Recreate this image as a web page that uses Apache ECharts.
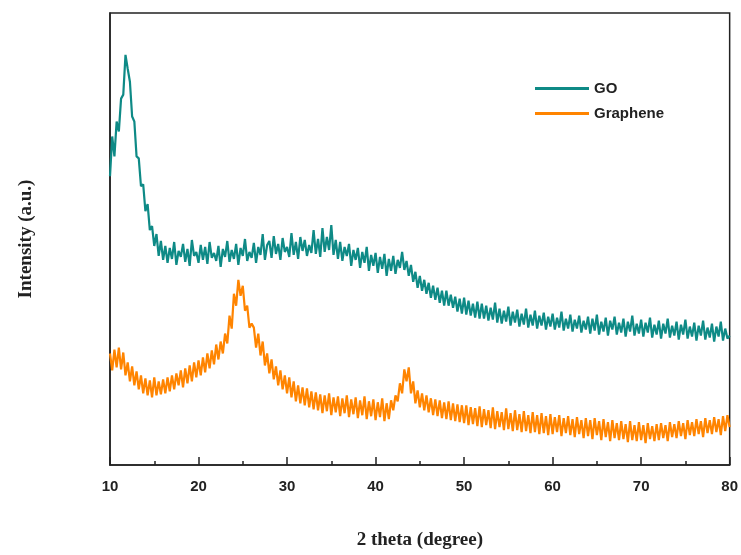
<!DOCTYPE html>
<html><head><meta charset="utf-8">
<script src="https://cdn.jsdelivr.net/npm/echarts@6/dist/echarts.min.js"></script>
<style>html,body{margin:0;padding:0;background:#fff}#c{width:741px;height:555px}</style>
</head><body><div id="c"></div>
<script>
// 2-theta sampling grid: 10..80 deg, 0.25 deg steps
const thetaStart = 10, thetaStep = 0.25;
const seriesNames = ['GO', 'Graphene'];
const xTicks = [10, 20, 30, 40, 50, 60, 70, 80];

const goValues = [
290,330,310,345,335,368,372,412,398,
385,350,345,310,308,280,282,255,262,236,240,220,232,210,225,206,
220,203,218,207,224,201,215,209,222,204,217,200,226,210,214,203,221,206,219,202,224,208,213,205,220,199,217,209,225,204,216,207,222,201,218,210,227,205,214,208,223,203,219,211,232,206,221,
225,208,230,212,222,206,228,214,
219,209,233,211,224,207,229,215,
226,210,221,213,236,212,227,209,
238,214,229,216,241,211,226,207,
224,205,219,210,222,200,216,206,
218,198,214,203,219,195,211,200,
213,193,209,197,212,190,207,195,
210,192,206,198,
214,196,205,190,
201,184,194,178,190,175,186,172,
183,168,180,166,178,163,175,160,
175,160,171,158,169,154,167,152,
168,151,165,150,162,148,164,147,
162,147,160,145,158,146,163,143,
157,142,155,144,159,140,154,143,
156,139,152,141,157,138,151,140,
155,137,150,140,153,136,149,139,
152,136,148,138,154,135,147,137,
151,134,146,137,150,133,145,136,
149,132,147,135,151,131,144,134,
148,130,145,136,149,131,143,133,
147,129,144,134,150,130,142,132,
146,129,143,133,148,128,141,131,
145,127,142,132,147,128,140,130,
144,126,141,131,146,127,139,129,
143,125,140,130,145,126,138,128,
142,124,139,129,144,125,137,127,
130
];

const grapheneValues = [
112,95,116,98,118,96,113,90,103,
84,99,80,94,76,90,72,87,70,85,68,88,70,84,71,86,
72,88,74,90,76,92,80,95,78,97,82,100,84,103,88,105,90,108,93,112,97,115,101,121,106,124,112,
132,122,150,137,172,160,186,170,180,155,160,138,142,
138,118,132,110,124,100,112,92,106,86,99,80,95,76,90,
72,88,68,84,64,80,62,78,
60,77,58,74,56,73,55,71,
52,70,54,72,50,68,53,69,
49,67,52,70,48,66,51,68,
47,65,50,69,46,64,49,66,
45,63,48,67,44,62,46,65,
55,70,64,82,72,96,84,98,72,84,62,75,
58,72,55,70,53,67,50,66,
49,65,47,63,46,64,45,62,
44,61,43,60,
42,60,40,58,41,57,39,59,
38,56,40,55,37,58,36,54,
38,53,35,57,36,52,34,55,
35,51,33,54,34,50,32,53,
33,50,31,52,32,49,30,51,
31,48,33,50,29,47,32,49,
30,46,28,48,31,45,27,47,
29,45,26,47,30,44,25,46,
28,43,24,45,27,42,25,44,
26,41,23,44,25,40,24,43,
25,40,22,42,26,39,24,41,
25,42,27,40,24,43,28,41,
27,44,29,42,26,45,30,43,
29,46,31,44,28,47,32,45,
31,48,33,46,30,49,34,50,
38
];

const colors = ['#0e8a86', '#ff8400'];
function pairs(vals){ return vals.map((v,i)=>[thetaStart + i*thetaStep, v]); }

const chart = echarts.init(document.getElementById('c'));
chart.setOption({
  animation:false,
  backgroundColor:'#fff',
  grid:{left:110,right:10,top:13,bottom:88,show:true,borderColor:'#222',borderWidth:1.5},
  legend:{
    left:530, top:76, orient:'vertical', itemGap:10,
    icon:'rect', itemWidth:54, itemHeight:3,
    textStyle:{fontFamily:'Liberation Sans, Arial',fontWeight:'bold',fontSize:15,color:'#222'},
    data:seriesNames
  },
  xAxis:{
    type:'value', min:10, max:80, interval:10,
    axisLine:{lineStyle:{color:'#222',width:1.5}},
    axisTick:{inside:true,length:8,lineStyle:{color:'#222',width:1.5}},
    minorTick:{show:true,splitNumber:2,length:4,lineStyle:{color:'#222',width:1.5}},
    splitLine:{show:false},
    axisLabel:{margin:14,fontFamily:'Liberation Sans, Arial',fontWeight:'bold',fontSize:15,color:'#222',
      formatter:v=>xTicks.includes(v)?String(v):''},
    name:'2 theta (degree)', nameLocation:'middle', nameGap:66,
    nameTextStyle:{fontFamily:'Liberation Serif, Times New Roman',fontWeight:'bold',fontSize:19,color:'#222'}
  },
  yAxis:{
    type:'value', min:0, max:454,
    axisLine:{show:true,lineStyle:{color:'#222',width:1.5}},
    axisTick:{show:false}, axisLabel:{show:false}, splitLine:{show:false},
    name:'Intensity (a.u.)', nameLocation:'middle', nameGap:74,
    nameTextStyle:{fontFamily:'Liberation Serif, Times New Roman',fontWeight:'bold',fontSize:19,color:'#222'}
  },
  series:[
    {name:seriesNames[0],type:'line',data:pairs(goValues),showSymbol:false,color:colors[0],lineStyle:{width:2.2,color:colors[0]}},
    {name:seriesNames[1],type:'line',data:pairs(grapheneValues),showSymbol:false,color:colors[1],lineStyle:{width:2.2,color:colors[1]}}
  ]
});
</script></body></html>
